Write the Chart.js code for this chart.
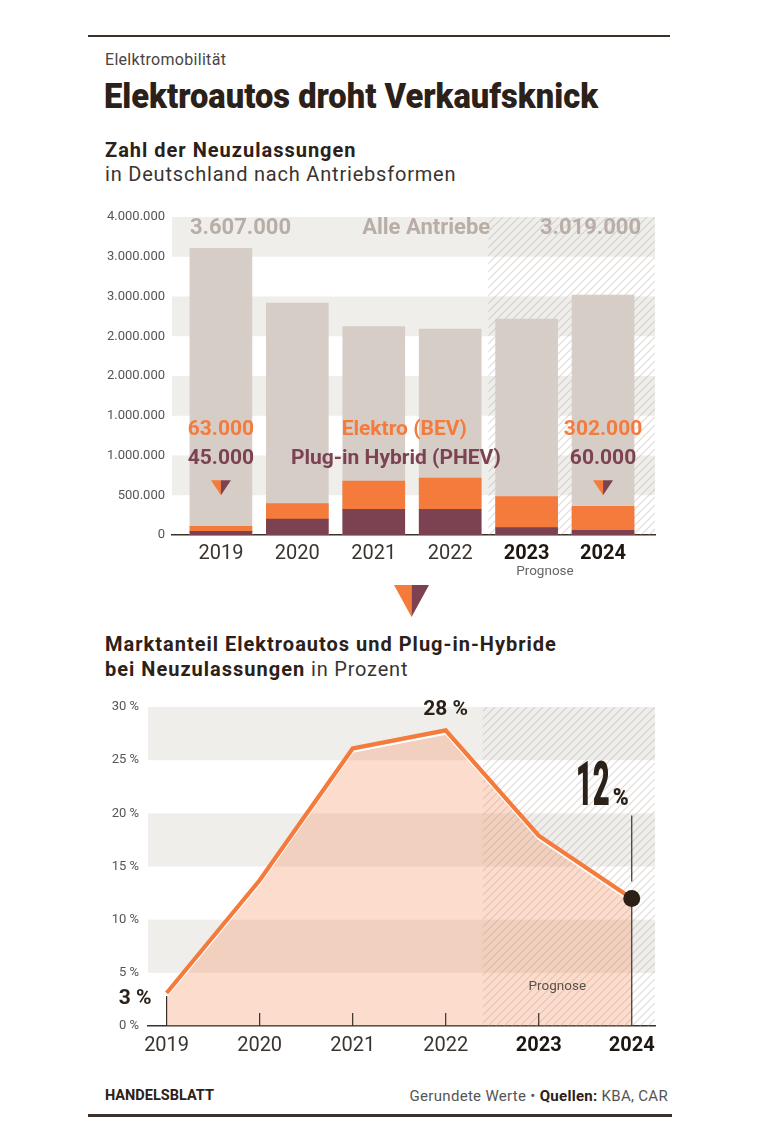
<!DOCTYPE html>
<html><head><meta charset="utf-8">
<script src="https://cdn.jsdelivr.net/npm/chart.js@4.4.0/dist/chart.umd.min.js"></script>
<style>
body{margin:0;background:#fff;width:760px;height:1137px;position:relative;overflow:hidden;font-family:Roboto,sans-serif;color:#2b2118}
.t{position:absolute;white-space:nowrap;line-height:1}
.box{position:absolute}
.hb{font-size:20px;font-weight:700;letter-spacing:1px;color:#2b2118}
.hr{font-size:20px;font-weight:400;letter-spacing:0.8px;color:#3a3430}
</style></head><body>
<div style="position:absolute;left:88px;top:35px;width:582px;height:2px;background:#3b3128"></div>
<div class="t" style="left:105px;top:52px;font-size:16px;letter-spacing:0.3px;color:#4a4440">Elelktromobilität</div>
<div class="t" id="title" style="left:104px;top:79px;font-weight:900;font-size:35px;color:#2b2118;transform-origin:0 0">Elektroautos droht Verkaufsknick</div>
<div class="t hb" style="left:105px;top:140px">Zahl der Neuzulassungen</div>
<div class="t hr" style="left:105px;top:164px">in Deutschland nach Antriebsformen</div>

<div class="box" style="left:88px;top:200px;width:582px;height:390px"><canvas id="bars"></canvas></div>

<svg style="position:absolute;left:394px;top:585px" width="36" height="33">
<polygon points="0,0 17.5,0 17.5,32" fill="#f47b3b"/>
<polygon points="17.5,0 35,0 17.5,32" fill="#7d4252"/>
</svg>

<div class="t hb" style="left:105px;top:634px">Marktanteil Elektroautos und Plug-in-Hybride</div>
<div class="t hr" style="left:105px;top:659px"><b style="color:#2b2118;letter-spacing:1px">bei Neuzulassungen</b> in Prozent</div>

<div class="box" style="left:88px;top:690px;width:582px;height:380px"><canvas id="share"></canvas></div>

<div class="t" style="left:105px;top:1089px;font-size:14.5px;font-weight:700;color:#2b2118">HANDELSBLATT</div>
<div class="t" style="right:92px;top:1089px;font-size:15px;letter-spacing:0.3px;color:#555">Gerundete Werte • <b style="color:#2b2118">Quellen:</b> KBA, CAR</div>
<div style="position:absolute;left:88px;top:1114px;width:584px;height:3px;background:#3b3128"></div>

<script>
const years = [2019, 2020, 2021, 2022, 2023, 2024];
const allDrives = [3607000, 2917000, 2622000, 2590000, 2717000, 3019000];
const bevUnits = [63000, 194000, 356000, 394000, 390000, 302000];
const phevUnits = [45000, 200000, 323000, 323000, 92000, 60000];
const unitTickLabels = ['0','500.000','1.000.000','1.000.000','2.000.000','2.000.000','3.000.000','3.000.000','4.000.000'];
const sharePercent = [3.1, 13.7, 26.1, 27.8, 17.9, 12.0];
const shareTickLabels = ['0 %','5 %','10 %','15 %','20 %','25 %','30 %'];
const forecastYears = [2023, 2024];

(function fitTitle(){
  const el = document.getElementById('title');
  const w = el.getBoundingClientRect().width;
  el.style.transform = 'scaleX(' + (494 / w) + ')';
})();

const ORANGE = '#f47b3b', PURPLE = '#7d4252', BARGREY = '#d6cdc7', BAND = '#efeeeb', DARK = '#2b2118', AXIS = '#3b3128';
const fmt = n => String(n).replace(/\B(?=(\d{3})+(?!\d))/g, '.');

function hatchPattern(ctx){
  const c = document.createElement('canvas'); c.width = 8; c.height = 8;
  const g = c.getContext('2d');
  g.strokeStyle = 'rgba(170,160,152,0.38)'; g.lineWidth = 1.2;
  g.beginPath();
  g.moveTo(0,8); g.lineTo(8,0);
  g.moveTo(-2,2); g.lineTo(2,-2);
  g.moveTo(6,10); g.lineTo(10,6);
  g.stroke();
  return ctx.createPattern(c, 'repeat');
}

function drawBands(chart, hatchStart){
  const {ctx, chartArea:a, scales:{x, y}} = chart;
  const ticks = y.ticks.map(t => t.value);
  ctx.save();
  for (let k = 0; k < ticks.length - 1; k++){
    if (k % 2 === 1){
      const y1 = y.getPixelForValue(ticks[k+1]), y0 = y.getPixelForValue(ticks[k]);
      ctx.fillStyle = BAND;
      ctx.fillRect(a.left, y1, a.right - a.left, y0 - y1);
    }
  }
  const hx = x.getPixelForValue(hatchStart);
  ctx.fillStyle = hatchPattern(ctx);
  ctx.fillRect(hx, a.top, a.right - hx, a.bottom - a.top);
  ctx.restore();
}

function splitTri(ctx, cx, top, w, h){
  ctx.fillStyle = ORANGE;
  ctx.beginPath(); ctx.moveTo(cx - w/2, top); ctx.lineTo(cx, top); ctx.lineTo(cx, top + h); ctx.closePath(); ctx.fill();
  ctx.fillStyle = PURPLE;
  ctx.beginPath(); ctx.moveTo(cx, top); ctx.lineTo(cx + w/2, top); ctx.lineTo(cx, top + h); ctx.closePath(); ctx.fill();
}

const yearTickFont = c => ({family: 'Roboto', size: 20, weight: forecastYears.includes(c.tick && c.tick.value) ? '700' : '400'});
const yearTickColor = c => forecastYears.includes(c.tick && c.tick.value) ? '#1e1711' : '#3a3430';

/* ---------- Bar chart ---------- */
const barPlugin = {
  id: 'barDeco',
  beforeDatasetsDraw(chart){ drawBands(chart, 2022.5); },
  afterDatasetsDraw(chart){
    const {ctx, scales:{x, y}} = chart;
    const first = years[0], last = years[years.length-1];
    ctx.save();
    ctx.textBaseline = 'middle';
    ctx.font = '700 22px Roboto'; ctx.fillStyle = '#b8aea7';
    const yTop = y.getPixelForValue(3850000);
    ctx.textAlign = 'left';  ctx.fillText(fmt(allDrives[0]), x.getPixelForValue(first) - 31, yTop);
    ctx.textAlign = 'right'; ctx.fillText('Alle Antriebe', x.getPixelForValue(2022) + 40, yTop);
    ctx.textAlign = 'right'; ctx.fillText(fmt(allDrives[allDrives.length-1]), x.getPixelForValue(last) + 38, yTop);

    ctx.font = '700 21px Roboto';
    const yBev = y.getPixelForValue(1320000), yPhev = y.getPixelForValue(956000);
    ctx.textAlign = 'center';
    ctx.fillStyle = ORANGE;
    ctx.fillText(fmt(bevUnits[0]), x.getPixelForValue(first), yBev);
    ctx.fillText('Elektro (BEV)', x.getPixelForValue(2021.4), yBev);
    ctx.fillText(fmt(bevUnits[bevUnits.length-1]), x.getPixelForValue(last), yBev);
    ctx.fillStyle = PURPLE;
    ctx.fillText(fmt(phevUnits[0]), x.getPixelForValue(first), yPhev);
    ctx.fillText('Plug-in Hybrid (PHEV)', x.getPixelForValue(2021.29), yPhev);
    ctx.fillText(fmt(phevUnits[phevUnits.length-1]), x.getPixelForValue(last), yPhev);

    const triTop = y.getPixelForValue(690000);
    splitTri(ctx, x.getPixelForValue(first), triTop, 20, 15);
    splitTri(ctx, x.getPixelForValue(last), triTop, 20, 15);

    ctx.font = '400 13.5px Roboto'; ctx.fillStyle = '#666'; ctx.textAlign = 'center';
    ctx.fillText('Prognose', x.getPixelForValue(2023.24), chart.chartArea.bottom + 37);
    ctx.restore();
  }
};

new Chart(document.getElementById('bars'), {
  type: 'bar',
  data: {
    datasets: [
      {label: 'Plug-in Hybrid (PHEV)', data: years.map((yr,i)=>({x: yr, y: phevUnits[i]})), backgroundColor: PURPLE, stack: 'ev', grouped: false},
      {label: 'Elektro (BEV)', data: years.map((yr,i)=>({x: yr, y: bevUnits[i]})), backgroundColor: ORANGE, stack: 'ev', grouped: false},
      {label: 'Alle Antriebe', data: years.map((yr,i)=>({x: yr, y: allDrives[i]})), backgroundColor: BARGREY, stack: 'all', grouped: false}
    ]
  },
  options: {
    responsive: true, maintainAspectRatio: false, animation: false,
    datasets: {bar: {barThickness: 62, borderWidth: 0}},
    layout: {padding: {top: 17, right: 15, left: 0, bottom: 0}},
    plugins: {legend: {display: false}, tooltip: {enabled: false}},
    scales: {
      x: {
        type: 'linear', min: 2018.36, max: 2024.68, offset: false,
        afterBuildTicks: s => { s.ticks = years.map(v => ({value: v})); },
        afterFit: s => { s.height = 55; },
        grid: {display: false, drawTicks: false, offset: false},
        border: {display: true, color: AXIS, width: 1.5},
        ticks: {padding: 7, callback: v => String(v), font: yearTickFont, color: yearTickColor, maxRotation: 0, autoSkip: false}
      },
      y: {
        stacked: true, min: 0, max: 4000000,
        afterBuildTicks: s => { s.ticks = unitTickLabels.map((_, i) => ({value: i * 500000})); },
        afterFit: s => { s.width = 84; },
        grid: {display: false, drawTicks: false},
        border: {display: false},
        ticks: {padding: 7, callback: (v, i) => unitTickLabels[i], font: {family: 'Roboto', size: 13}, color: '#555'}
      }
    }
  },
  plugins: [barPlugin]
});

/* ---------- Line chart ---------- */
const sharePlugin = {
  id: 'shareDeco',
  beforeDatasetsDraw(chart){ drawBands(chart, 2022.4); },
  beforeDatasetDraw(chart, args){
    if (args.index === 1){ chart.ctx.save(); chart.ctx.translate(0, 3.2); }
  },
  afterDatasetDraw(chart, args){
    if (args.index === 1){ chart.ctx.restore(); }
  },
  afterDatasetsDraw(chart){
    const {ctx, chartArea:a, scales:{x, y}} = chart;
    const y0 = y.getPixelForValue(0);
    ctx.save();
    ctx.strokeStyle = AXIS; ctx.lineWidth = 1.2;
    years.forEach((yr, i) => {
      const px = x.getPixelForValue(yr);
      let top = y0 - 13;
      if (i === 0) top = y.getPixelForValue(sharePercent[0]) + 3;
      if (i === years.length - 1) top = y.getPixelForValue(sharePercent[i]) + 6;
      ctx.beginPath(); ctx.moveTo(px, y0); ctx.lineTo(px, top); ctx.stroke();
    });
    const lastX = x.getPixelForValue(years[years.length-1]);
    ctx.beginPath(); ctx.moveTo(lastX, y.getPixelForValue(19.8)); ctx.lineTo(lastX, y.getPixelForValue(13.6)); ctx.stroke();

    const last = sharePercent[sharePercent.length-1];
    ctx.beginPath(); ctx.arc(lastX, y.getPixelForValue(last), 8.5, 0, Math.PI*2); ctx.fillStyle = '#2b1f17'; ctx.fill();

    ctx.fillStyle = DARK; ctx.textBaseline = 'alphabetic';
    const bigTxt = String(Math.round(last));
    ctx.save();
    ctx.font = '900 62px Roboto';
    const bw = ctx.measureText(bigTxt).width;
    ctx.translate(lastX - 22, y.getPixelForValue(20.8));
    ctx.scale(34 / bw, 1);
    ctx.textAlign = 'right';
    ctx.fillText(bigTxt, 0, 0);
    ctx.restore();
    ctx.save();
    ctx.font = '900 23px Roboto';
    const pw = ctx.measureText('%').width;
    ctx.translate(lastX - 19, y.getPixelForValue(20.8));
    ctx.scale(16 / pw, 1);
    ctx.textAlign = 'left';
    ctx.fillText('%', 0, 0);
    ctx.restore();

    ctx.textBaseline = 'middle'; ctx.font = '700 21px Roboto';
    ctx.textAlign = 'center';
    ctx.fillText(Math.round(sharePercent[3]) + ' %', x.getPixelForValue(years[3]), a.top + 3);
    ctx.textAlign = 'right';
    ctx.fillText(Math.round(sharePercent[0]) + ' %', x.getPixelForValue(years[0]) - 15, y.getPixelForValue(2.6));

    ctx.font = '400 13.5px Roboto'; ctx.fillStyle = '#5a524c'; ctx.textAlign = 'center';
    ctx.fillText('Prognose', x.getPixelForValue(2023.2), y.getPixelForValue(3.7));
    ctx.restore();
  }
};

new Chart(document.getElementById('share'), {
  type: 'line',
  data: {
    datasets: [
      {label: 'Marktanteil', data: years.map((yr,i)=>({x: yr, y: sharePercent[i]})), borderColor: ORANGE, borderWidth: 4.2, pointRadius: 0, tension: 0, fill: false, borderJoinStyle: 'miter'},
      {label: 'Fläche', data: years.map((yr,i)=>({x: yr, y: sharePercent[i]})), borderColor: '#ffffff', borderWidth: 2.2, pointRadius: 0, tension: 0, fill: 'origin', backgroundColor: 'rgba(245,138,88,0.30)'}
    ]
  },
  options: {
    responsive: true, maintainAspectRatio: false, animation: false,
    layout: {padding: {top: 17, right: 15, left: 0, bottom: 0}},
    plugins: {legend: {display: false}, tooltip: {enabled: false}},
    scales: {
      x: {
        type: 'linear', min: 2018.8, max: 2024.25,
        afterBuildTicks: s => { s.ticks = years.map(v => ({value: v})); },
        afterFit: s => { s.height = 44; },
        grid: {display: false, drawTicks: false},
        border: {display: true, color: AXIS, width: 1.5},
        ticks: {padding: 8, callback: v => String(v), font: yearTickFont, color: yearTickColor, maxRotation: 0, autoSkip: false}
      },
      y: {
        min: 0, max: 30,
        afterBuildTicks: s => { s.ticks = shareTickLabels.map((_, i) => ({value: i * 5})); },
        afterFit: s => { s.width = 60; },
        grid: {display: false, drawTicks: false},
        border: {display: false},
        ticks: {padding: 9, callback: (v, i) => shareTickLabels[i], font: {family: 'Roboto', size: 13}, color: '#555'}
      }
    }
  },
  plugins: [sharePlugin]
});
</script>
</body></html>
